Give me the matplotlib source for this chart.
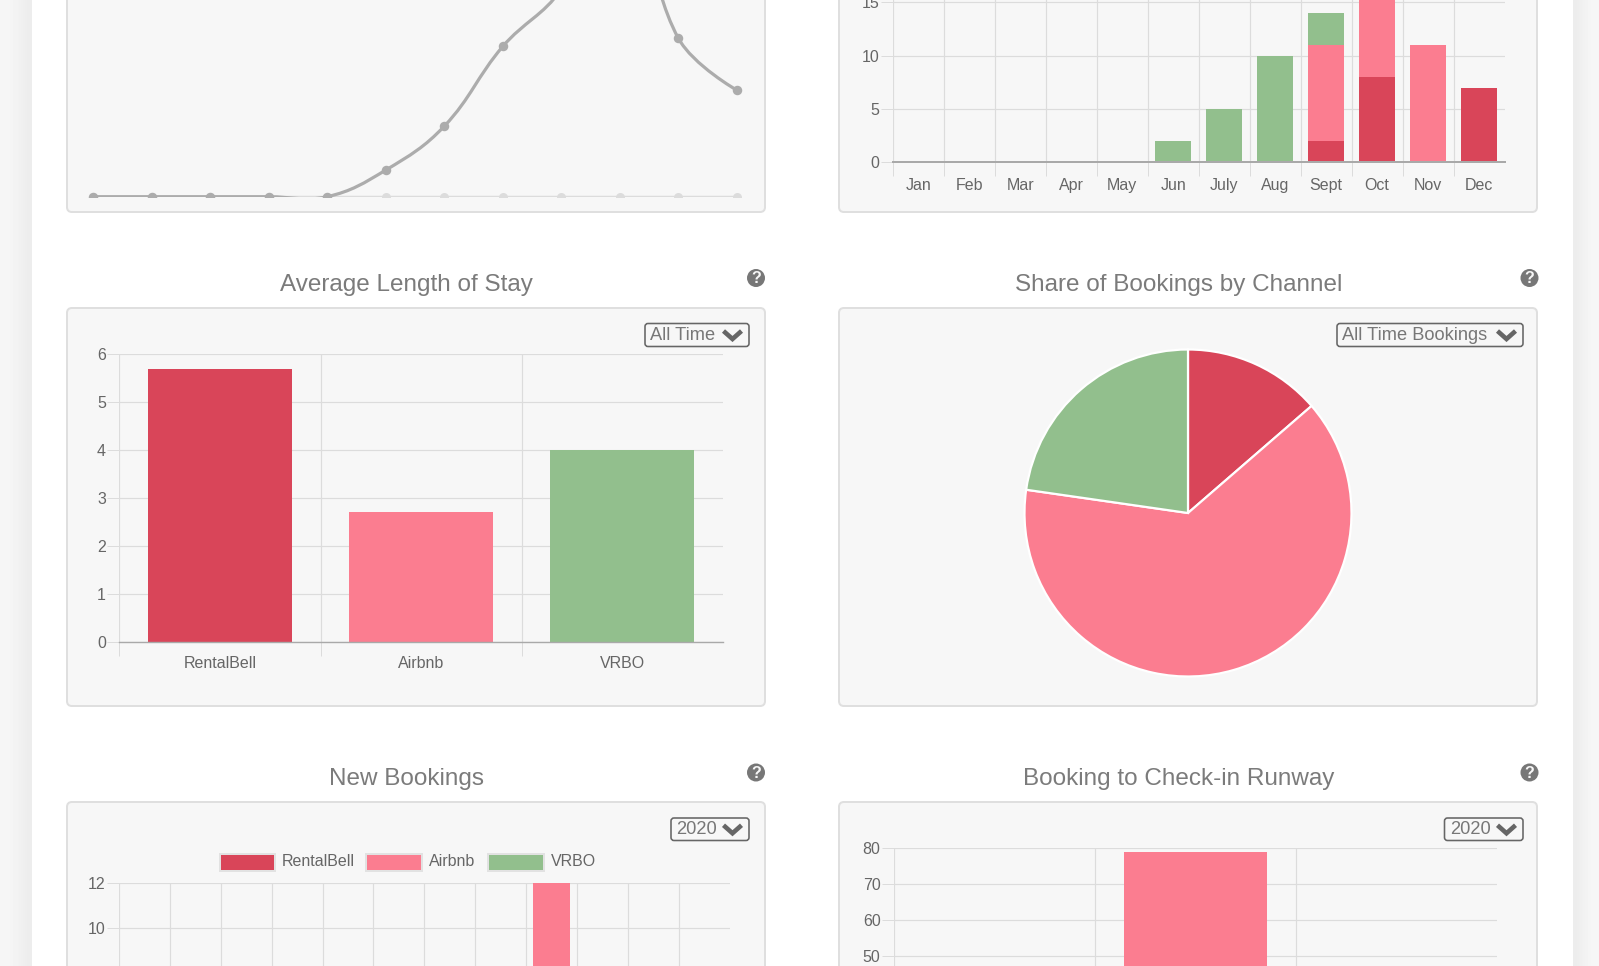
#!/usr/bin/env python3

"""Booking dashboard screenshot rebuilt with matplotlib"""

import numpy as np
import matplotlib
matplotlib.use("Agg")
import matplotlib.pyplot as plt
from matplotlib.patches import FancyBboxPatch, PathPatch, Circle, Rectangle
from matplotlib.path import Path

W, H = 1599, 966

MONTHS = ["Jan", "Feb", "Mar", "Apr", "May", "Jun", "July", "Aug", "Sept", "Oct", "Nov", "Dec"]
CHANNELS = ["RentalBell", "Airbnb", "VRBO"]

# top left line chart (top of it is cut off by the screenshot)
line_dark = [0, 0, 0, 0, 0, 2, 5.3, 11.3, 15.6, 24, 11.9, 8]
line_light = [0, 0, 0, 0, 0, 0, 0, 0, 0, 0, 0, 0]

# top right stacked months
stack_rentalbell = [0, 0, 0, 0, 0, 0, 0, 0, 2, 8, 0, 7]
stack_airbnb = [0, 0, 0, 0, 0, 0, 0, 0, 9, 10, 11, 0]
stack_vrbo = [0, 0, 0, 0, 0, 2, 5, 10, 3, 0, 0, 0]

avg_stay = [5.7, 2.7, 4.0]
channel_share = [3, 14, 5]

new_bookings_airbnb = [0, 0, 0, 0, 0, 0, 0, 0, 12, 0, 0, 0]
runway_days = [0, 79, 0]

RED = "#d94559"
PINK = "#fb7d90"
GREEN = "#92bf8d"
CHANNEL_COLORS = [RED, PINK, GREEN]

CARD_BG = "#f7f7f7"
CARD_EDGE = "#dfdfdf"
GRID = "#dcdcdc"
BASE = "#a9a9a9"
TICK_TEXT = "#666666"
TITLE_TEXT = "#7b7b7b"
DARK = "#777777"

plt.rcParams["font.family"] = ["Liberation Sans", "DejaVu Sans"]


def px(size):
    """Pixels to points at dpi 100"""
    return size * 0.72


fig = plt.figure(figsize=(W / 100, H / 100), dpi=100)
fig.patch.set_facecolor("white")

# page furniture is drawn in screen pixels
page = fig.add_axes([0, 0, 1, 1], zorder=0)
page.set_xlim(0, W)
page.set_ylim(H, 0)
page.axis("off")

# grey strips either side with soft shadow
shade = np.array([[0.965, 0.96, 0.945, 0.925]])
page.imshow(shade, extent=(0, 32, H, 0), cmap="gray", vmin=0, vmax=1, aspect="auto", interpolation="bicubic")
page.imshow(shade[:, ::-1], extent=(1573, W, H, 0), cmap="gray", vmin=0, vmax=1, aspect="auto", interpolation="bicubic")
page.set_xlim(0, W)
page.set_ylim(H, 0)


def card(left, top, right, bottom):
    page.add_patch(FancyBboxPatch((left, top), right - left, bottom - top,
                                  boxstyle="round,pad=0,rounding_size=5",
                                  fc=CARD_BG, ec=CARD_EDGE, lw=px(2)))


def title(text, x, y):
    page.text(x, y, text, ha="center", va="center", fontsize=px(24.2), color=TITLE_TEXT)


def help_icon(x, y):
    page.add_patch(Circle((x, y), 9, fc=DARK, ec="none"))
    page.text(x, y + 0.5, "?", ha="center", va="center", fontsize=px(16), color=CARD_BG, fontweight="bold")


def dropdown(left, right, top, bottom, text):
    page.add_patch(FancyBboxPatch((left, top), right - left, bottom - top,
                                  boxstyle="round,pad=0,rounding_size=3",
                                  fc=CARD_BG, ec="#666666", lw=px(1.6)))
    page.text(left + 5.5, (top + bottom) / 2, text, ha="left", va="center",
              fontsize=px(18.3), color=DARK)
    mid = (top + bottom) / 2
    page.plot([right - 25.5, right - 16.5, right - 7.5], [mid - 4, mid + 4, mid - 4],
              color="#666666", lw=px(4.6), solid_capstyle="butt", solid_joinstyle="miter")


def chart_axes(left, top, right, bottom):
    ax = fig.add_axes([left / W, 1 - bottom / H, (right - left) / W, (bottom - top) / H], zorder=2)
    ax.patch.set_alpha(0)
    return ax


def style_bars(ax, n, labels, yticks, ylim, base_lw=1.4, label_pad=14.5):
    ax.set_xlim(0, n)
    ax.set_ylim(*ylim)
    for side in ["top", "right", "left"]:
        ax.spines[side].set_visible(False)
    ax.spines["bottom"].set_color(BASE)
    ax.spines["bottom"].set_linewidth(px(base_lw))
    ax.set_xticks(np.arange(n))
    ax.set_xticklabels([])
    if labels:
        ax.set_xticks(np.arange(n) + 0.5, minor=True)
        ax.set_xticklabels(labels, minor=True)
    ax.set_yticks(yticks)
    ax.tick_params(axis="x", which="major", length=px(14), width=px(1), color=GRID)
    ax.tick_params(axis="x", which="minor", length=0, pad=px(label_pad), labelsize=px(16), labelcolor=TICK_TEXT)
    ax.tick_params(axis="y", length=px(12.5), width=px(1), color=GRID, pad=px(1),
                   labelsize=px(16), labelcolor=TICK_TEXT)
    ax.grid(True, which="major", color=GRID, lw=px(1.2))
    ax.set_axisbelow(True)


# cards
card(67, -40, 765, 212)
card(839, -40, 1537, 212)
card(67, 308, 765, 706)
card(839, 308, 1537, 706)
card(67, 802, 765, 1020)
card(839, 802, 1537, 1020)

title("Average Length of Stay", 406.5, 284.7)
title("Share of Bookings by Channel", 1179, 284.7)
title("New Bookings", 406.5, 778.7)
title("Booking to Check-in Runway", 1179, 778.7)

for hx in (756, 1529.5):
    help_icon(hx, 278)
    help_icon(hx, 772.5)

dropdown(645, 749, 323.5, 346.5, "All Time")
dropdown(1337, 1523, 323.5, 346.5, "All Time Bookings")
dropdown(671, 749, 818, 840.5, "2020")
dropdown(1444.5, 1523, 818, 840.5, "2020")

# top left: smoothed line, y scale is 13.3 px per unit, bottom edge clips the dots
ax = chart_axes(87, -500, 743, 196.7)
ax.set_xlim(-6 / 58.5, 11 + 6 / 58.5)
ax.set_ylim(0, 696.7 / 13.3)
ax.axis("off")
months_x = np.arange(len(MONTHS))
ax.plot(months_x, line_light, color="#dcdcdc", lw=px(2.5), marker="o", ms=px(9), mew=0, zorder=2)


def spline(ax, xs, ys, tension=0.4):
    """Bezier through the points, same tangents chart.js would use"""
    pts = ax.transData.transform(np.column_stack([xs, ys]))
    n = len(pts)
    before, after = pts.copy(), pts.copy()
    for i in range(1, n - 1):
        d1 = np.hypot(*(pts[i] - pts[i - 1]))
        d2 = np.hypot(*(pts[i + 1] - pts[i]))
        s1 = d1 / (d1 + d2)
        s2 = d2 / (d1 + d2)
        before[i] = pts[i] - tension * s1 * (pts[i + 1] - pts[i - 1])
        after[i] = pts[i] + tension * s2 * (pts[i + 1] - pts[i - 1])
    verts = [pts[0]]
    codes = [Path.MOVETO]
    for i in range(1, n):
        verts += [after[i - 1], before[i], pts[i]]
        codes += [Path.CURVE4] * 3
    return Path(ax.transData.inverted().transform(np.array(verts)), codes)


ax.add_patch(PathPatch(spline(ax, months_x, line_dark), fc="none", ec="#acacac", lw=px(3.2), zorder=3))
ax.plot(months_x, line_dark, ls="none", marker="o", ms=px(9.5), mew=0, color="#acacac", zorder=4)

# top right: stacked months, 10.66 px per unit
ax = chart_axes(892.7, -300, 1504.5, 162.4)
style_bars(ax, 12, MONTHS, [0, 5, 10, 15], (0, 462.4 / 10.66), base_lw=2, label_pad=15.2)
bar_x = months_x + 0.5
rb = np.array(stack_rentalbell)
ab = np.array(stack_airbnb)
vr = np.array(stack_vrbo)
ax.bar(bar_x, rb, 0.7, color=RED)
ax.bar(bar_x, ab, 0.7, bottom=rb, color=PINK)
ax.bar(bar_x, vr, 0.7, bottom=rb + ab, color=GREEN)

# average stay
ax = chart_axes(119.5, 354.3, 722.7, 641.7)
style_bars(ax, 3, CHANNELS, range(7), (0, 6))
ax.bar(np.arange(3) + 0.5, avg_stay, 0.715, color=CHANNEL_COLORS)

# pie, sized in pixels inside its own axes
ax = chart_axes(1188 - 170, 513 - 170, 1188 + 170, 513 + 170)
ax.pie(channel_share, colors=CHANNEL_COLORS, startangle=90, counterclock=False, radius=163.5,
       center=(0, 0), frame=True, wedgeprops={"edgecolor": "white", "linewidth": px(2.2)})
ax.set_xlim(-170, 170)
ax.set_ylim(-170, 170)
ax.axis("off")

# new bookings legend and chart, 22.2 px per unit
legend_left = [219.5, 366, 488]
legend_text = [282, 429, 551]
for name, color, lx, tx in zip(CHANNELS, CHANNEL_COLORS, legend_left, legend_text):
    page.add_patch(Rectangle((lx, 854), 55.5, 17, fc=color, ec="#e2e2e2", lw=px(2)))
    page.text(tx, 862, name, ha="left", va="center", fontsize=px(16), color=TICK_TEXT)

# only the top of the last two charts is on screen, so only those y ticks get labels
ax = chart_axes(119, 883.3, 729.5, 883.3 + 12 * 22.2)
style_bars(ax, 12, None, [10, 12], (0, 12))
ax.bar(bar_x, new_bookings_airbnb, 0.72, color=PINK)

# runway, 3.6 px per unit
ax = chart_axes(894, 848, 1497, 848 + 288)
style_bars(ax, 3, None, [50, 60, 70, 80], (0, 80))
ax.bar(np.arange(3) + 0.5, runway_days, 0.715, color=PINK)

fig.savefig("out.png", dpi=100)
